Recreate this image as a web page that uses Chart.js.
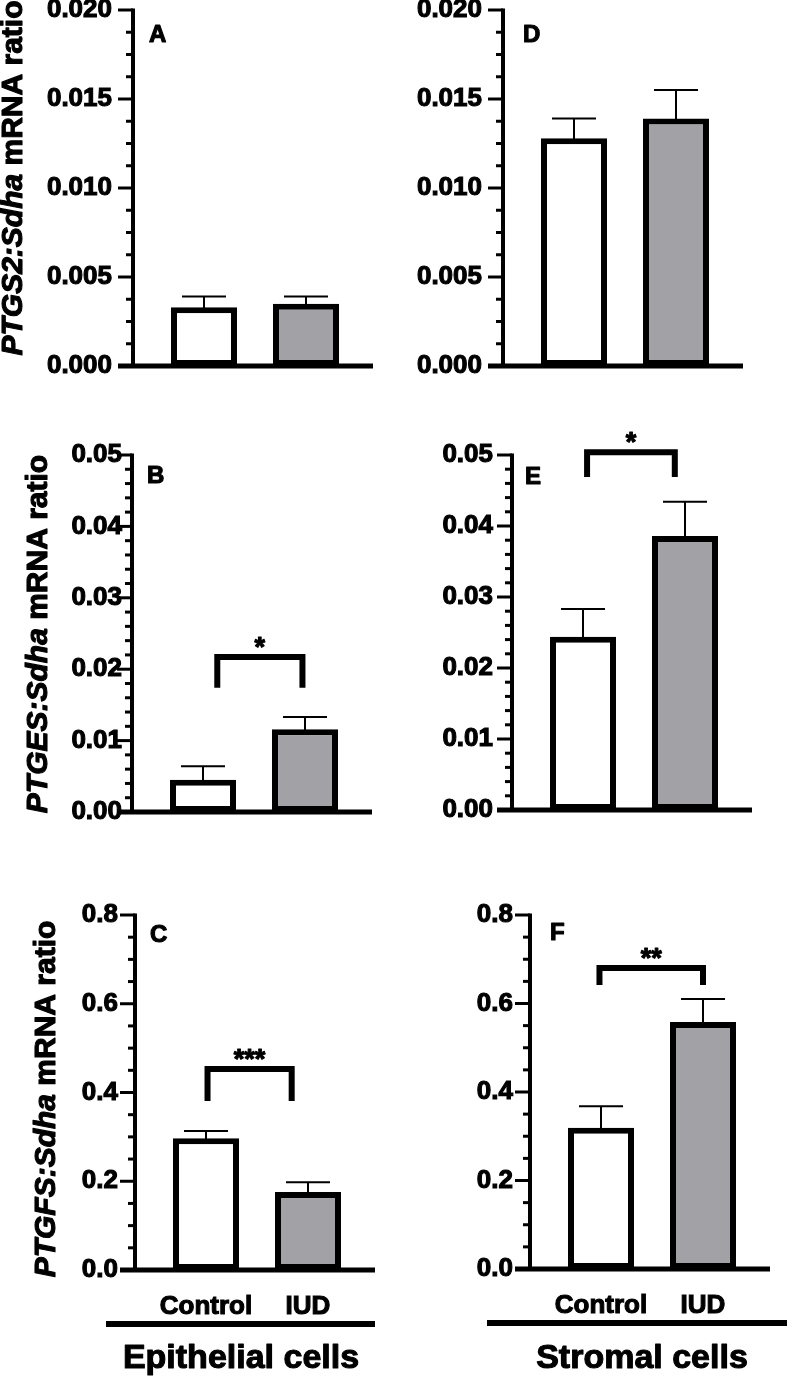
<!DOCTYPE html>
<html>
<head>
<meta charset="utf-8">
<script src="https://cdn.jsdelivr.net/npm/chart.js@4.4.0/dist/chart.umd.min.js"></script>
<style>
  html, body { margin: 0; padding: 0; background: #fff; }
  #page { position: relative; width: 787px; height: 1377px; overflow: hidden; }
  #page canvas { position: absolute; }
</style>
</head>
<body>
<div id="page"></div>
<script>
// ---- data ----
const groups = ["Control", "IUD"];

const ptgs2Epi = [0.0033, 0.0035];
const ptgs2EpiSem = [0.0006, 0.0004];
const ptgs2Str = [0.0128, 0.0139];
const ptgs2StrSem = [0.0011, 0.0016];

const ptgesEpi = [0.0045, 0.0116];
const ptgesEpiSem = [0.0019, 0.0017];
const ptgesStr = [0.0244, 0.0386];
const ptgesStrSem = [0.0039, 0.0048];

const ptgfsEpi = [0.297, 0.176];
const ptgfsEpiSem = [0.016, 0.022];
const ptgfsStr = [0.319, 0.558];
const ptgfsStrSem = [0.049, 0.052];

const ptgs2TickLabels = ["0.000", "0.005", "0.010", "0.015", "0.020"];
const ptgesTickLabels = ["0.00", "0.01", "0.02", "0.03", "0.04", "0.05"];
const ptgfsTickLabels = ["0.0", "0.2", "0.4", "0.6", "0.8"];

// significance: label, bracket top value, leg end value, ends in category units
const sigB = { text: "*", top: 0.0217, leg: 0.0174, from: 0.14, to: 0.975 };
const sigE = { text: "*", top: 0.0504, leg: 0.0469, from: 0.04, to: 0.90 };
const sigC = { text: "***", top: 0.453, leg: 0.381, from: 0.015, to: 0.84 };
const sigF = { text: "**", top: 0.680, leg: 0.642, from: -0.015, to: 1.0 };

// ---- styling ----
const FAMILY = "'Liberation Sans', Arial, Helvetica, sans-serif";
const GREY = "#a2a1a6";
const HEAVY = 1.1; // extra stroke round the bold glyphs, the print is heavier than plain bold

/* panel layout, page coordinates */
const panels = [
  { letter: "A", box: { x: 0, y: 0, w: 390, h: 420 }, axisX: 133, top: 10, bottom: 366, gap: 21,
    max: 0.02, step: 0.005, minor: 0.00125, tickLabels: ptgs2TickLabels,
    values: ptgs2Epi, sem: ptgs2EpiSem, sig: null,
    title: ["PTGS2:Sdha", " mRNA ratio"], titleAt: [22, 178], letterAt: [149, 42] },
  { letter: "D", box: { x: 390, y: 0, w: 397, h: 420 }, axisX: 503, top: 10, bottom: 366, gap: 21,
    max: 0.02, step: 0.005, minor: 0.00125, tickLabels: ptgs2TickLabels,
    values: ptgs2Str, sem: ptgs2StrSem, sig: null, letterAt: [523, 42] },
  { letter: "B", box: { x: 0, y: 420, w: 390, h: 450 }, axisX: 132, top: 455, bottom: 812, gap: 10,
    max: 0.05, step: 0.01, minor: 0.002, tickLabels: ptgesTickLabels,
    values: ptgesEpi, sem: ptgesEpiSem, sig: sigB,
    title: ["PTGES:Sdha", " mRNA ratio"], titleAt: [47, 634], letterAt: [147, 483] },
  { letter: "E", box: { x: 390, y: 420, w: 397, h: 450 }, axisX: 512, top: 455, bottom: 810, gap: 19,
    max: 0.05, step: 0.01, minor: 0.002, tickLabels: ptgesTickLabels,
    values: ptgesStr, sem: ptgesStrSem, sig: sigE, letterAt: [525, 484] },
  { letter: "C", box: { x: 0, y: 870, w: 390, h: 507 }, axisX: 135, top: 915, bottom: 1270, gap: 17,
    max: 0.8, step: 0.2, minor: 0.05, tickLabels: ptgfsTickLabels,
    values: ptgfsEpi, sem: ptgfsEpiSem, sig: sigC, showGroups: true,
    title: ["PTGFS:Sdha", " mRNA ratio"], titleAt: [55, 1099], letterAt: [150, 942],
    caption: "Epithelial cells", captionAt: [241, 1368], rule: [106, 375, 1324] },
  { letter: "F", box: { x: 390, y: 870, w: 397, h: 507 }, axisX: 530, top: 915, bottom: 1269, gap: 17,
    max: 0.8, step: 0.2, minor: 0.05, tickLabels: ptgfsTickLabels,
    values: ptgfsStr, sem: ptgfsStrSem, sig: sigF, showGroups: true, letterAt: [550, 940],
    caption: "Stromal cells", captionAt: [642, 1368], rule: [487, 800, 1323] }
];

// keep the plot box where we put it: no extra inset for half labels
function noPadding(s) {
  s.paddingTop = 0;
  s.paddingBottom = 0;
  s.paddingLeft = 0;
  s.paddingRight = 0;
}

function heavyText(ctx, text, x, y) {
  ctx.lineWidth = HEAVY;
  ctx.lineJoin = "round";
  ctx.strokeText(text, x, y);
  ctx.fillText(text, x, y);
}

/* draws error bars, axes, ticks, brackets and the text Chart.js can't do */
function decor(p) {
  const ox = p.box.x, oy = p.box.y;
  return {
    id: "decor" + p.letter,
    beforeDatasetsDraw(chart) {
      const { ctx, scales: { x, y } } = chart;
      ctx.save();
      ctx.strokeStyle = "#000";
      ctx.lineWidth = 2;
      p.values.forEach((v, i) => {
        const xc = x.getPixelForValue(i);
        const y0 = y.getPixelForValue(v);
        const y1 = y.getPixelForValue(v + p.sem[i]);
        ctx.beginPath();
        ctx.moveTo(xc, y0 + 4);
        ctx.lineTo(xc, y1);
        ctx.moveTo(xc - 22, y1);
        ctx.lineTo(xc + 22, y1);
        ctx.stroke();
      });
      ctx.restore();
    },
    afterDatasetsDraw(chart) {
      const { ctx, scales: { x, y } } = chart;
      const ax = p.axisX - ox;
      const y0 = y.getPixelForValue(0);
      const yTop = y.getPixelForValue(p.max);
      ctx.save();
      ctx.strokeStyle = "#000";
      ctx.fillStyle = "#000";
      ctx.lineCap = "butt";

      // axis lines
      ctx.lineWidth = 4;
      ctx.beginPath();
      ctx.moveTo(ax, yTop - 1.5);
      ctx.lineTo(ax, y0);
      ctx.stroke();
      ctx.lineWidth = 5;
      ctx.beginPath();
      ctx.moveTo(ax - 15, y0);
      ctx.lineTo(ax + 240, y0);
      ctx.stroke();

      // major + minor ticks
      ctx.lineWidth = 3;
      const n = Math.round(p.max / p.minor);
      for (let k = 1; k <= n; k++) {
        const v = k * p.minor;
        const major = Math.abs(v / p.step - Math.round(v / p.step)) < 1e-6;
        const py = y.getPixelForValue(v);
        ctx.beginPath();
        ctx.moveTo(ax - (major ? 15 : 7), py);
        ctx.lineTo(ax, py);
        ctx.stroke();
      }

      // significance bracket
      if (p.sig) {
        const c0 = x.getPixelForValue(0), c1 = x.getPixelForValue(1);
        const xl = c0 + (c1 - c0) * p.sig.from;
        const xr = c0 + (c1 - c0) * p.sig.to;
        const yt = y.getPixelForValue(p.sig.top);
        const yl = y.getPixelForValue(p.sig.leg);
        ctx.lineWidth = 6;
        ctx.lineJoin = "miter";
        ctx.beginPath();
        ctx.moveTo(xl, yl);
        ctx.lineTo(xl, yt);
        ctx.lineTo(xr, yt);
        ctx.lineTo(xr, yl);
        ctx.stroke();
        ctx.font = "bold 27px " + FAMILY;
        ctx.textAlign = "center";
        ctx.textBaseline = "alphabetic";
        heavyText(ctx, p.sig.text, (xl + xr) / 2, yt - 1);
      }

      // panel letter
      ctx.font = "bold 24px " + FAMILY;
      ctx.textAlign = "left";
      ctx.textBaseline = "alphabetic";
      heavyText(ctx, p.letter, p.letterAt[0] - ox, p.letterAt[1] - oy);

      // y axis title, italic gene pair then plain text
      if (p.title) {
        ctx.save();
        ctx.translate(p.titleAt[0] - ox, p.titleAt[1] - oy);
        ctx.rotate(-Math.PI / 2);
        const fItal = "italic bold 30px " + FAMILY;
        const fBold = "bold 30px " + FAMILY;
        ctx.font = fItal;
        const w1 = ctx.measureText(p.title[0]).width;
        ctx.font = fBold;
        const w2 = ctx.measureText(p.title[1]).width;
        const start = -(w1 + w2) / 2;
        ctx.textAlign = "left";
        ctx.font = fItal;
        heavyText(ctx, p.title[0], start, 0);
        ctx.font = fBold;
        heavyText(ctx, p.title[1], start + w1, 0);
        ctx.restore();
      }

      // group rule and caption
      if (p.caption) {
        ctx.lineWidth = 6;
        ctx.beginPath();
        ctx.moveTo(p.rule[0] - ox, p.rule[2] - oy);
        ctx.lineTo(p.rule[1] - ox, p.rule[2] - oy);
        ctx.stroke();
        ctx.font = "bold 34px " + FAMILY;
        ctx.textAlign = "center";
        heavyText(ctx, p.caption, p.captionAt[0] - ox, p.captionAt[1] - oy);
      }
      ctx.restore();
    }
  };
}

function buildPanel(p) {
  const cv = document.createElement("canvas");
  cv.width = p.box.w;
  cv.height = p.box.h;
  cv.style.left = p.box.x + "px";
  cv.style.top = p.box.y + "px";
  cv.style.width = p.box.w + "px";
  cv.style.height = p.box.h + "px";
  document.getElementById("page").appendChild(cv);

  const ax = p.axisX - p.box.x;
  const top = p.top - p.box.y;
  const bottom = p.bottom - p.box.y;
  const left = ax + 20, right = ax + 224;
  const tickFont = { family: FAMILY, size: 26, weight: "bold" };

  new Chart(cv, {
    type: "bar",
    data: {
      labels: groups,
      datasets: [{
        data: p.values,
        backgroundColor: ["#ffffff", GREY],
        borderColor: "#000",
        borderWidth: 6,
        borderSkipped: false,
        barPercentage: 66 / 102,
        categoryPercentage: 1
      }]
    },
    options: {
      responsive: false,
      animation: false,
      devicePixelRatio: 1,
      layout: { padding: { top: top, right: p.box.w - right, left: 0, bottom: 0 } },
      plugins: { legend: { display: false }, tooltip: { enabled: false } },
      scales: {
        x: {
          grid: { display: false, drawTicks: false },
          border: { display: false },
          ticks: {
            display: !!p.showGroups,
            color: "#000",
            textStrokeColor: "#000",
            textStrokeWidth: HEAVY,
            padding: 21,
            maxRotation: 0,
            font: tickFont
          },
          afterFit: s => { s.height = p.box.h - bottom; noPadding(s); }
        },
        y: {
          min: 0,
          max: p.max,
          grid: { display: false, drawTicks: false },
          border: { display: false },
          ticks: {
            stepSize: p.step,
            color: "#000",
            textStrokeColor: "#000",
            textStrokeWidth: HEAVY,
            padding: p.gap + 20,
            font: tickFont,
            callback: (v, i) => p.tickLabels[i]
          },
          afterFit: s => { s.width = left; noPadding(s); }
        }
      }
    },
    plugins: [decor(p)]
  });
}

panels.forEach(buildPanel);
</script>
</body>
</html>
